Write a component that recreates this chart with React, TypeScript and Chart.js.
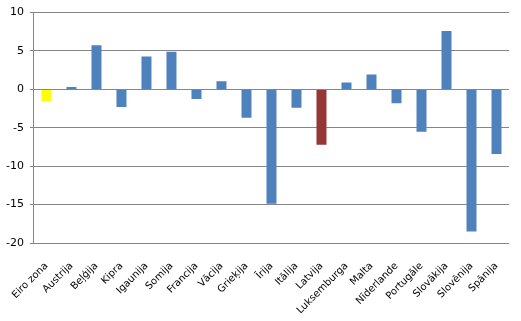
import React, { useEffect, useRef } from "react";
import { Chart, registerables } from "chart.js";

Chart.register(...registerables);

const categories = [
  "Eiro zona", "Austrija", "Beļģija", "Kipra", "Igaunija", "Somija", "Francija",
  "Vācija", "Grieķija", "Īrija", "Itālija", "Latvija", "Luksemburga", "Malta",
  "Nīderlande", "Portugāle", "Slovākija", "Slovēnija", "Spānija",
];
const values = [
  -1.5, 0.3, 5.75, -2.3, 4.3, 4.9, -1.25, 1.05, -3.7, -14.9, -2.4, -7.2, 0.9,
  1.95, -1.8, -5.5, 7.6, -18.5, -8.4,
];
const barColors = categories.map((c) =>
  c === "Eiro zona" ? "#FFFF00" : c === "Latvija" ? "#953735" : "#4F81BD"
);
const yTicks = { min: -20, max: 10, step: 5 };

export default function App() {
  const ref = useRef<HTMLCanvasElement | null>(null);
  useEffect(() => {
    if (!ref.current) return;
    const chart = new Chart(ref.current, {
      type: "bar",
      data: {
        labels: categories,
        datasets: [
          {
            data: values,
            backgroundColor: barColors,
            borderWidth: 0,
            categoryPercentage: 1,
            barPercentage: 0.4,
          },
        ],
      },
      options: {
        animation: false,
        responsive: false,
        maintainAspectRatio: false,
        plugins: { legend: { display: false }, tooltip: { enabled: false } },
        layout: { padding: { top: 7, right: 12, bottom: 0, left: 0 } },
        scales: {
          x: {
            afterFit: (scale: any) => {
              scale.paddingLeft = 0;
              scale.paddingRight = 0;
              scale.height = 78;
            },
            grid: { display: false, drawTicks: false },
            border: { display: false },
            ticks: {
              minRotation: 45,
              maxRotation: 45,
              autoSkip: false,
              color: "#000",
              padding: 17,
              font: { family: "DejaVu Sans", size: 10 },
            },
          },
          y: {
            min: yTicks.min,
            max: yTicks.max,
            ticks: {
              stepSize: yTicks.step,
              color: "#000",
              padding: 6,
              font: { family: "DejaVu Sans", size: 11 },
            },
            grid: { color: "#868686", lineWidth: 1, tickLength: 4 },
            border: { color: "#868686", width: 1 },
          },
        },
      },
    });
    return () => chart.destroy();
  }, []);
  return (
    <div style={{ position: "fixed", left: 0, top: 0, width: 521, height: 321, background: "#fff" }}>
      <canvas ref={ref} width={521} height={321} />
    </div>
  );
}
